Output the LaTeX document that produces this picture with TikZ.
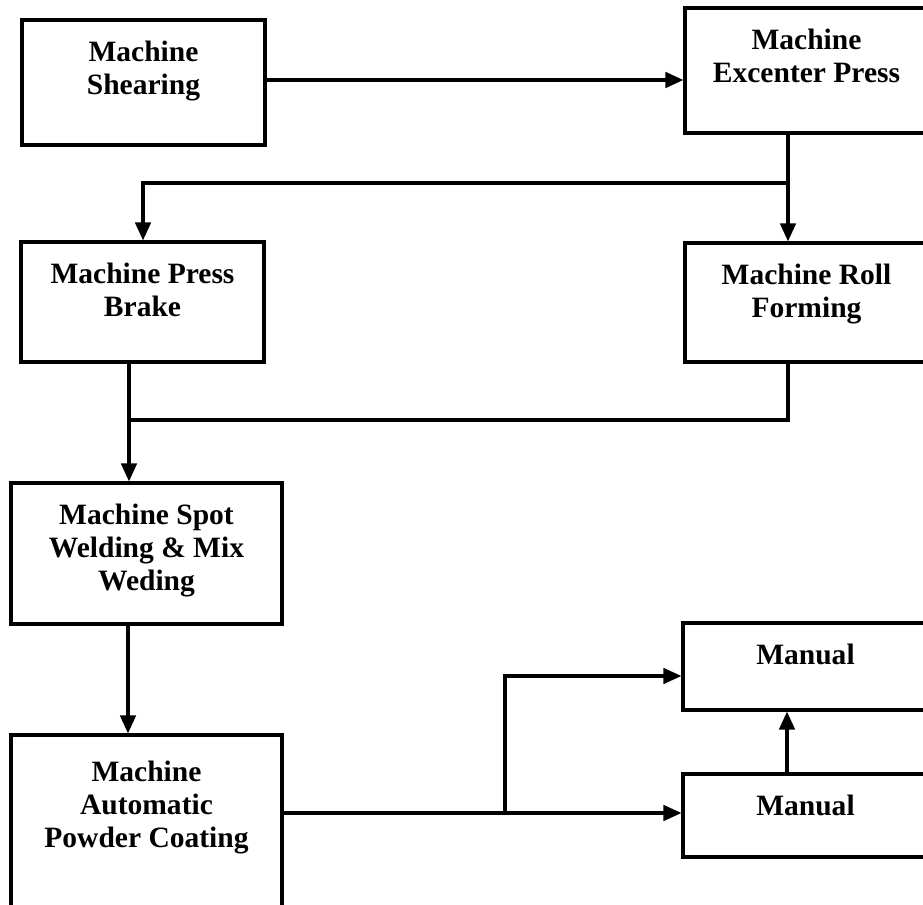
\documentclass[tikz,border=0pt]{standalone}
\usepackage{fontspec}
\setmainfont{Liberation Serif}
\usetikzlibrary{arrows.meta,positioning}

\begin{document}
\begin{tikzpicture}[x=0.02cm,y=-0.02cm,
  proc/.style={draw,line width=1.8pt,inner sep=0pt},
  proctext/.style={anchor=north,yshift=-0.44cm,align=center,inner sep=0pt,
                   font=\fontsize{16.8}{18.8}\selectfont\bfseries},
  link/.style={line width=1.8pt},
  flow/.style={link,-{Triangle[length=0.36cm,width=0.31cm]}},
]
\clip (0,0) rectangle (923,905);
% left column
\node[proc,minimum width=4.86cm,minimum height=2.5cm,
      label={[proctext,name=shear-t]north:{Machine\\Shearing}}] (shear) at (143.5,82.5) {};
\node[proc,minimum width=4.86cm,minimum height=2.4cm,
      label={[proctext,name=brake-t]north:{Machine Press\\Brake}}] (brake) at (142.5,302) {};
\node[proc,minimum width=5.42cm,minimum height=2.82cm,
      label={[proctext,name=spot-t]north:{Machine Spot\\Welding \& Mix\\Weding}}] (spot) at (146.5,553.5) {};
\node[proc,minimum width=5.42cm,minimum height=4cm,
      label={[proctext,yshift=-0.1cm,name=coat-t]north:{Machine\\Automatic\\Powder Coating}}] (coat) at (146.5,835) {};
% right column
\node[proc,minimum width=4.86cm,minimum height=2.5cm,
      label={[proctext,name=excenter-t]north:{Machine\\Excenter Press}}] (excenter) at (806.5,70.5) {};
\node[proc,minimum width=4.86cm,minimum height=2.38cm,
      label={[proctext,name=roll-t]north:{Machine Roll\\Forming}}] (roll) at (806.5,302.5) {};
\node[proc,minimum width=4.9cm,minimum height=1.74cm,
      label={[proctext,name=manA-t]north:{Manual}}] (manA) at (805.5,666.5) {};
\node[proc,minimum width=4.9cm,minimum height=1.66cm,
      label={[proctext,name=manB-t]north:{Manual}}] (manB) at (805.5,815.5) {};
% connectors
\coordinate (split1) at (788,183);
\coordinate (merge1) at (129,420);
\coordinate (split2) at (505,813);
\draw[flow] (shear.east |- 0,80) -- (excenter.west |- 0,80);
\draw[flow] (excenter.south -| split1) -- (roll.north -| split1);
\draw[flow] (split1) -| (143,0 |- brake.north);
\draw[flow] (brake.south -| merge1) -- (spot.north -| merge1);
\draw[link] (roll.south -| split1) |- (merge1);
\draw[flow] (spot.south -| 128,0) -- (coat.north -| 128,0);
\draw[flow] (coat.east |- split2) -- (manB.west |- split2);
\draw[flow] (split2) |- (manA.west |- 0,676);
\draw[flow] (manB.north -| 787,0) -- (manA.south -| 787,0);
\end{tikzpicture}
\end{document}
